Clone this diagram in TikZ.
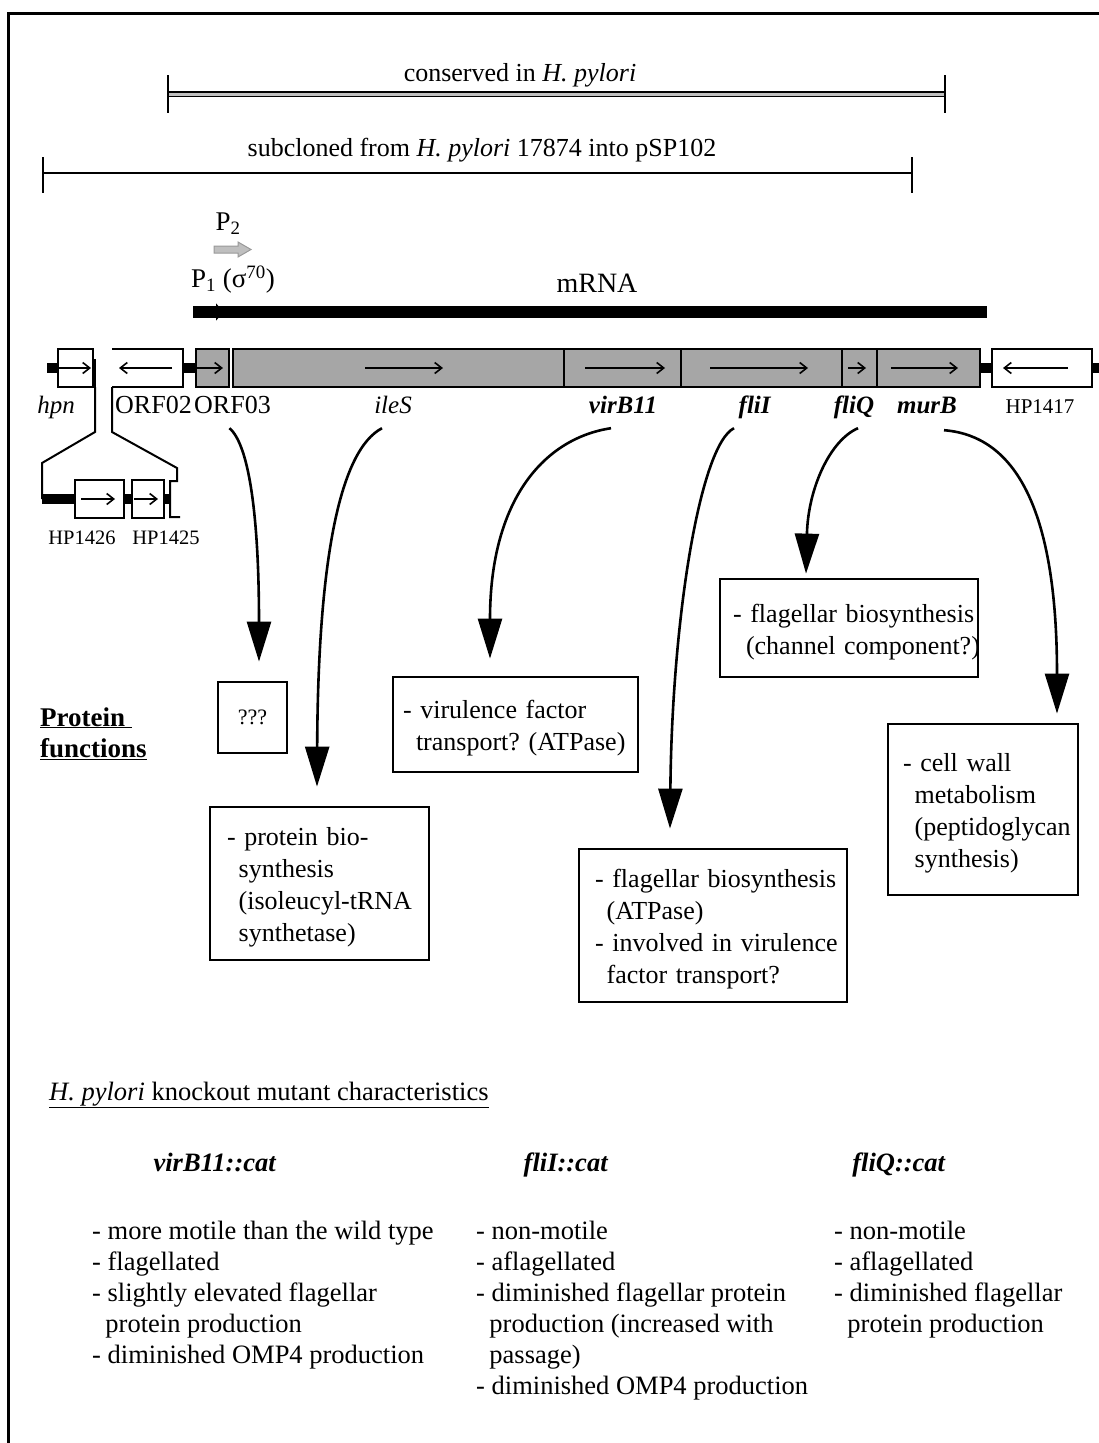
\documentclass[tikz,border=0pt]{standalone}
\usepackage{fontspec}
\setmainfont{Liberation Serif}
\usepackage{tikz}
\usetikzlibrary{arrows.meta}
\frenchspacing
\newcommand\fnlines[1]{\raisebox{-4pt}[\height][\depth]{\begin{tabular}{@{}l@{}}#1\end{tabular}}}

\begin{document}
\begin{tikzpicture}[x=1pt, y=-1pt,
	genebox/.style={draw, line width=2.2pt, fill=black!35},
	orfbox/.style={draw, line width=2.2pt, fill=white},
	genedir/.style={line width=1.6pt, -{Straight Barb[length=7pt,width=11pt]}},
	backbone/.style={line width=10pt},
	genelbl/.style={font=\fontsize{25}{30}\selectfont, inner sep=1pt, text height=18pt, text depth=6pt},
	hplbl/.style={font=\fontsize{20.5}{24}\selectfont, inner sep=1pt},
	toplbl/.style={font=\fontsize{26}{30}\selectfont, inner sep=1pt},
	funcbox/.style={draw, line width=2.8pt, align=left, inner ysep=0pt, font=\fontsize{26}{32}\selectfont},
	funcarrow/.style={line width=2.6pt, -{Triangle[length=40pt,width=24pt]}},
	kotext/.style={font=\fontsize{26.5}{31}\selectfont, inner sep=0pt, anchor=base west}]
	\useasboundingbox (0,0) rectangle (1099,1443);
	\draw[line width=3pt] (8,1443) -- (8,13) -- (1099,13);

	% conserved / subcloned ranges
	\node[toplbl, name=cons] at (520,75) {conserved in \textit{H. pylori}};
	\draw[line width=1.6pt, double=gray!50, double distance=3pt] (168,94) -- (945,94);
	\draw[line width=1.8pt] (168,75) -- (168,113) (945,75) -- (945,113);
	\node[toplbl, name=subc] at (482,150) {subcloned from \textit{H. pylori} 17874 into pSP102};
	\draw[line width=2.4pt] (43,173) -- (912,173);
	\draw[line width=1.8pt] (43,157) -- (43,193) (912,157) -- (912,193);

	% promoters and transcript
	\node[toplbl, name=ptwo, font=\fontsize{27}{30}\selectfont] at (228,224) {P\textsubscript{2}};
	\draw[fill=gray!50, draw=gray!80, line width=1pt] (214,246) -- (238,246) -- (238,242) -- (251,249.5) -- (238,257) -- (238,253) -- (214,253) -- cycle;
	\node[toplbl, name=pone, anchor=west, font=\fontsize{27}{30}\selectfont] at (190,280) {P\textsubscript{1} (σ\textsuperscript{70})};
	\draw[line width=12pt] (193,312) -- (987,312);
	\draw[line width=1pt, -{Triangle[length=8pt,width=17pt]}] (193,312) -- (224,312);
	\node[toplbl, name=mrna, font=\fontsize{28}{30}\selectfont] at (597,283) {mRNA};

	% gene row
	\draw[backbone] (47,368) -- (58,368) (183,368) -- (196,368) (980,368) -- (992,368) (1092,368) -- (1099,368);
	\draw[orfbox] (58,349) rectangle (93,387);
	\draw[genedir] (59,368) -- (91,368);
	\draw[line width=4pt] (94,359) -- (94,387);
	\draw[orfbox] (112,349) -- (183,349) -- (183,387) -- (112,387);
	\draw[genedir] (172,368) -- (119,368);
	\draw[genebox] (196,349) rectangle (229,387);
	\draw[genedir] (186,368) -- (223,368);
	\draw[genebox] (233,349) rectangle (564,387);
	\draw[genebox] (564,349) rectangle (681,387);
	\draw[genebox] (681,349) rectangle (842,387);
	\draw[genebox] (842,349) rectangle (877,387);
	\draw[genebox] (877,349) rectangle (980,387);
	\draw[genedir] (365,368) -- (443,368);
	\draw[genedir] (585,368) -- (665,368);
	\draw[genedir] (710,368) -- (808,368);
	\draw[genedir] (848,368) -- (866,368);
	\draw[genedir] (891,368) -- (958,368);
	\draw[orfbox] (992,349) rectangle (1092,387);
	\draw[genedir] (1068,368) -- (1003,368);

	% hpn region blown up
	\draw[line width=2pt] (95,387) -- (95,432) -- (42,463) -- (42,499);
	\draw[line width=2pt] (112,387) -- (112,432) -- (177,468) -- (177,481) -- (170,481) -- (170,517) -- (180,517);
	\draw[backbone] (42,499) -- (75,499) (124,499) -- (132,499) (164,499) -- (170,499);
	\draw[orfbox] (75,480) rectangle (124,518);
	\draw[orfbox] (132,480) rectangle (164,518);
	\draw[genedir] (81,499) -- (115,499);
	\draw[genedir] (134,499) -- (158,499);
	\node[hplbl, name=hp1426] at (82,538) {HP1426};
	\node[hplbl, name=hp1425] at (166,538) {HP1425};

	\node[genelbl, name=hpn] at (56,407) {\textit{hpn}};
	\node[genelbl, name=orf2, anchor=east, font=\fontsize{26}{30}\selectfont] at (193,407) {ORF02};
	\node[genelbl, name=orf3, anchor=west, font=\fontsize{26}{30}\selectfont] at (193,407) {ORF03};
	\node[genelbl, name=iles] at (393,407) {\textit{ileS}};
	\node[genelbl, name=virb] at (623,407) {\textbf{\textit{virB11}}};
	\node[genelbl, name=flii] at (755,407) {\textbf{\textit{fliI}}};
	\node[genelbl, name=fliq] at (854,407) {\textbf{\textit{fliQ}}};
	\node[genelbl, name=murb] at (927,407) {\textbf{\textit{murB}}};
	\node[hplbl, name=hp1417, font=\fontsize{21}{24}\selectfont] at (1040,407) {HP1417};

	% protein functions
	\node[anchor=base west, name=pfunc, inner sep=0pt, font=\fontsize{27}{31}\selectfont\bfseries] at (40,726) {\begin{tabular}[t]{@{}l@{}}\underline{Protein\ }\\\underline{functions}\end{tabular}};
	\node[funcbox, name=qbox, minimum width=69pt, minimum height=71pt, align=center, font=\fontsize{22}{26}\selectfont] at (252.5,717.5) {???};
	\node[funcbox, name=ibox, text width=185pt, inner xsep=17pt, minimum height=153pt] at (319.5,883.5) {\fnlines{- protein bio-\\\hspace*{0.45em}synthesis\\\hspace*{0.45em}(isoleucyl-tRNA\\\hspace*{0.45em}synthetase)}};
	\node[funcbox, name=vbox, text width=225pt, inner xsep=10pt, minimum height=95pt] at (515.5,724.5) {\fnlines{- virulence factor\\\hspace*{0.5em}transport? (ATPase)}};
	\node[funcbox, name=flibox, text width=236pt, inner xsep=16pt, minimum height=153pt] at (713,925.5) {\fnlines{- flagellar biosynthesis\\\hspace*{0.45em}(ATPase)\\- involved in virulence\\\hspace*{0.45em}factor transport?}};
	\node[funcbox, name=chbox, text width=232pt, inner xsep=13pt, minimum height=98pt] at (849,628) {\fnlines{- flagellar biosynthesis\\\hspace*{0.5em}(channel component?)}};
	\node[funcbox, name=mbox, text width=160pt, inner xsep=15pt, minimum height=171pt] at (983,809.5) {\fnlines{- cell wall\\\hspace*{0.45em}metabolism\\\hspace*{0.45em}(peptidoglycan\\\hspace*{0.45em}synthesis)}};

	\draw[funcarrow] ([xshift=-3pt,yshift=-8pt]orf3.south) .. controls +(20,17) and +(0,-143) .. ([xshift=6.5pt,yshift=19pt]qbox.north);
	\draw[funcarrow] ([xshift=-11pt,yshift=-8pt]iles.south) .. controls +(-42,22) and +(1,-228) .. ([xshift=-2.5pt,yshift=19pt]ibox.north);
	\draw[funcarrow] ([xshift=-12pt,yshift=-8pt]virb.south) .. controls +(-66,10) and +(0,-160) .. ([xshift=-25.5pt,yshift=17pt]vbox.north);
	\draw[funcarrow] ([xshift=-21pt,yshift=-8pt]flii.south) .. controls +(-34,17) and +(2,-210) .. ([xshift=-43pt,yshift=19pt]flibox.north);
	\draw[funcarrow] ([xshift=4pt,yshift=-8pt]fliq.south) .. controls +(-28,12) and +(2,-85) .. ([xshift=-43pt,yshift=4pt]chbox.north);
	\draw[funcarrow] ([xshift=17pt,yshift=-10pt]murb.south) .. controls +(76,6) and +(0,-195) .. ([xshift=74pt,yshift=9pt]mbox.north);

	% knockout mutants
	\node[kotext, name=kohead] at (49,1100) {\underline{\textit{H. pylori} knockout mutant characteristics}};
	\node[kotext, anchor=base, name=kovir] at (215,1171) {\textbf{\textit{virB11::cat}}};
	\node[kotext, anchor=base, name=koflii] at (566,1171) {\textbf{\textit{fliI::cat}}};
	\node[kotext, anchor=base, name=kofliq] at (899,1171) {\textbf{\textit{fliQ::cat}}};
	\node[kotext, name=kocola] at (92,1239) {\begin{tabular}[t]{@{}l@{}}- more motile than the wild type\\- flagellated\\- slightly elevated flagellar\\\hspace*{0.5em}protein production\\- diminished OMP4 production\end{tabular}};
	\node[kotext, name=kocolb] at (476,1239) {\begin{tabular}[t]{@{}l@{}}- non-motile\\- aflagellated\\- diminished flagellar protein\\\hspace*{0.5em}production (increased with\\\hspace*{0.5em}passage)\\- diminished OMP4 production\end{tabular}};
	\node[kotext, name=kocolc] at (834,1239) {\begin{tabular}[t]{@{}l@{}}- non-motile\\- aflagellated\\- diminished flagellar\\\hspace*{0.5em}protein production\end{tabular}};
\end{tikzpicture}
\end{document}
